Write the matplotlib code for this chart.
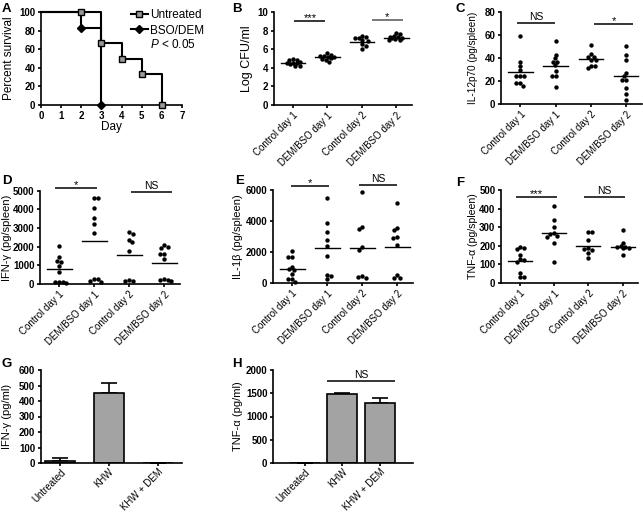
import numpy as np
import matplotlib
matplotlib.use("Agg")
import matplotlib.pyplot as plt
from matplotlib.lines import Line2D

plt.rcParams["font.family"] = ["Liberation Sans", "DejaVu Sans"]
plt.rcParams["mathtext.fontset"] = "custom"
plt.rcParams["mathtext.it"] = "Liberation Sans:italic"
plt.rcParams["mathtext.rm"] = "Liberation Sans"

W, H = 643, 513

# --- A: survival
days_untreated = [0, 2, 3, 4, 5, 6]
surv_untreated = [100, 100, 66.7, 50, 33.3, 0]
days_bso = [0, 2, 3]
surv_bso = [100, 83.3, 0]

day_groups = ["Control day 1", "DEM/BSO day 1", "Control day 2", "DEM/BSO day 2"]

# --- B: bacterial load
cfu = [
    [4.96, 4.85, 4.85, 4.6, 4.5, 4.5, 4.5, 4.4, 4.2, 4.2],
    [5.58, 5.4, 5.3, 5.3, 5.2, 5.15, 5.1, 5.0, 4.9, 4.67],
    [7.48, 7.3, 7.25, 7.2, 7.0, 6.94, 6.55, 6.4, 6.04],
    [7.77, 7.65, 7.4, 7.35, 7.3, 7.25, 7.2, 7.1, 7.05, 7.0],
]
cfu_mean = [4.56, 5.15, 6.85, 7.22]
cfu_sig = [(0.04, 0.94, 9.06, "***"), (2.29, 3.18, 9.2, "*")]

# --- C: IL-12p70
il12 = [
    [58.6, 36.7, 32.9, 29.5, 24.3, 24.3, 24.3, 17.9, 17.9, 15.9],
    [54.6, 42.5, 39.5, 36.7, 36.7, 33.8, 28.9, 24.6, 24.6, 15.0],
    [51.1, 43.1, 41.0, 41.0, 38.1, 38.1, 33.2, 33.2, 30.9],
    [50.5, 42.5, 38.1, 27.2, 24.3, 20.8, 20.8, 14.1, 8.4, 3.5],
]
il12_mean = [27.4, 32.9, 38.7, 24.6]
il12_sig = [(-0.1, 0.98, 70.5, "NS"), (2.1, 3.19, 69.3, "*")]

# --- D: IFN-gamma
ifng = [
    [2050, 1430, 1250, 1200, 980, 620, 130, 70, 120, 90],
    [4590, 4590, 4090, 3520, 3200, 2720, 250, 180, 250, 130],
    [2770, 2680, 2360, 2230, 1770, 210, 160, 180],
    [2090, 2000, 1950, 1610, 1600, 1320, 250, 200, 230, 180],
]
ifng_mean = [790, 2310, 1554, 1108]
ifng_sig = [(-0.11, 1.08, 5130, "*"), (2.04, 3.22, 4950, "NS")]

# --- E: IL-1beta
il1b = [
    [2080, 1700, 1700, 1050, 880, 840, 580, 240, 240, 90],
    [5460, 3850, 3270, 2770, 2390, 1740, 490, 240, 450],
    [5890, 3630, 3460, 2300, 2130, 450, 340, 410],
    [5140, 3570, 3420, 2950, 2880, 2450, 490, 340, 340],
]
il1b_mean = [880, 2280, 2280, 2345]
il1b_sig = [(-0.03, 1.05, 6256, "*"), (1.9, 3.0, 6320, "NS")]

# --- F: TNF-alpha
tnf = [
    [195, 186, 181, 150, 130, 125, 115, 55, 34, 34],
    [414, 339, 303, 267, 262, 253, 250, 217, 111],
    [276, 272, 231, 186, 183, 177, 160, 133],
    [285, 217, 200, 195, 195, 190, 190, 150],
]
tnf_mean = [118, 267, 201, 195]
tnf_sig = [(-0.11, 1.08, 464, "***"), (1.87, 3.07, 464, "NS")]

# --- G, H: in vitro
khw_groups = ["Untreated", "KHW", "KHW + DEM"]
ifng_ml = [15, 453, 0]
ifng_ml_err = [19, 61, 0]
tnf_ml = [0, 1477, 1297]
tnf_ml_err = [0, 35, 94]
tnf_ml_sig = [(0.58, 2.4, 1770, "NS")]


def add_axes(fig, left, top, right, bottom):
    return fig.add_axes([left / W, 1 - bottom / H, (right - left) / W, (bottom - top) / H])


def style(ax, ylim, yticks, ylabel, label_x, label_size=8):
    for s in ("top", "right"):
        ax.spines[s].set_visible(False)
    for s in ("left", "bottom"):
        ax.spines[s].set_linewidth(1.2)
    ax.set_ylim(*ylim)
    ax.set_yticks(yticks)
    ax.tick_params(direction="out", length=2.5, width=1.2, labelsize=7, pad=1.5)
    for lbl in ax.get_yticklabels():
        lbl.set_fontweight("bold")
    ax.set_ylabel(ylabel, fontsize=label_size)
    ax.yaxis.set_label_coords(label_x, 0.5)


def swarm(values, ax, dot=3.6, max_off=7.0):
    # GraphPad-like column scatter: nudge sideways, allow overlap past max_off
    pos = ax.get_position()
    x0, x1 = ax.get_xlim()
    y0, y1 = ax.get_ylim()
    sx = pos.width * W / (x1 - x0)
    sy = pos.height * H / (y1 - y0)
    vals = np.asarray(values, dtype=float)
    offs = np.zeros(len(vals))
    placed = []
    cands = [0.0]
    k = 1
    while k <= max_off:
        cands += [k, -k]
        k += 1
    for n, idx in enumerate(np.argsort(-vals, kind="stable")):
        y = vals[idx] * sy
        order = cands if n % 2 else [-c for c in cands]
        best, best_d = None, -1
        for c in order:
            d = min([np.hypot(c - px, y - py) for px, py in placed] or [99])
            if d >= dot:
                best = c
                break
            if d > best_d:
                best, best_d = c, d
        placed.append((best, y))
        offs[idx] = best / sx
    return offs


def sig_bars(ax, sigs, color="black"):
    for x0, x1, level, text in sigs:
        ax.plot([x0, x1], [level, level], color=color, lw=1.1, clip_on=False,
                solid_capstyle="butt")
        dy = 2 if text == "NS" else 0
        size = 7.5 if text == "NS" else 8
        ax.annotate(text, ((x0 + x1) / 2, level), xytext=(0, dy), textcoords="offset points",
                    ha="center", va="baseline", fontsize=size, annotation_clip=False)


def dot_panel(ax, groups, means, ylim, yticks, ylabel, label_x, sigs, label_size=8):
    ax.set_xlim(-0.55, 3.45)
    style(ax, ylim, yticks, ylabel, label_x, label_size)
    for i, (vals, m) in enumerate(zip(groups, means)):
        offs = swarm(vals, ax)
        ax.scatter(i + offs, vals, s=10, color="black", linewidths=0, zorder=3, clip_on=False)
        ax.plot([i - 0.35, i + 0.35], [m, m], color="black", lw=1.0, zorder=2)
    ax.set_xticks(range(len(day_groups)))
    ax.set_xticklabels(day_groups, rotation=45, ha="right", rotation_mode="anchor", fontsize=7)
    sig_bars(ax, sigs)


def bar_panel(ax, values, errs, xlim, width, ylim, yticks, ylabel, label_x):
    ax.set_xlim(*xlim)
    style(ax, ylim, yticks, ylabel, label_x)
    x = np.arange(len(values))
    ax.bar(x, values, width=width, color="#a3a3a3", edgecolor="black", linewidth=1.2, zorder=2)
    ax.errorbar(x, values, yerr=[np.zeros(len(errs)), errs], fmt="none", ecolor="black",
                elinewidth=1.2, capsize=5.5, capthick=1.2, zorder=1)
    ax.set_xticks(x)
    ax.set_xticklabels(khw_groups, rotation=45, ha="right", rotation_mode="anchor", fontsize=6.9)
    ax.tick_params(axis="x", pad=0.3)


fig = plt.figure(figsize=(W / 100, H / 100), dpi=100)

# A
ax = add_axes(fig, 41, 12.3, 182, 105)
ax.set_xlim(0, 7)
ax.set_xticks(range(8))
style(ax, (0, 100), [0, 20, 40, 60, 80, 100], "Percent survival", -0.185, 8.5)
for lbl in ax.get_xticklabels():
    lbl.set_fontweight("bold")
ax.set_xlabel("Day", fontsize=8.5)
ax.xaxis.set_label_coords(0.5, -0.17)
ax.plot(days_untreated, surv_untreated, drawstyle="steps-post", color="black", lw=1.5,
        clip_on=False, zorder=2)
ax.plot(days_untreated[1:], surv_untreated[1:], ls="none", marker="s", ms=4.5,
        mfc="#9a9a9a", mec="black", mew=1.0, clip_on=False, zorder=4)
ax.plot(days_bso, surv_bso, drawstyle="steps-post", color="black", lw=1.5,
        clip_on=False, zorder=3)
ax.plot(days_bso[1:], surv_bso[1:], ls="none", marker="D", ms=3.8, color="black",
        clip_on=False, zorder=5)
handles = [
    Line2D([], [], color="black", lw=1.5, marker="s", ms=4.5, mfc="#9a9a9a", mec="black"),
    Line2D([], [], color="black", lw=1.5, marker="D", ms=3.8),
]
ax.legend(handles, ["Untreated", "BSO/DEM"], loc="upper left",
          bbox_to_anchor=((131 - 41) / 141, (105 - 9) / 92.7), frameon=False,
          fontsize=8.5, handlelength=1.4, handletextpad=0.25, labelspacing=0.3,
          borderpad=0, borderaxespad=0)
ax.text((150 - 41) / 141, (105 - 44) / 92.7, "$P$ < 0.05", transform=ax.transAxes,
        fontsize=8.5, va="center", ha="left")

# B
ax = add_axes(fig, 274, 12.3, 412, 105)
dot_panel(ax, cfu, cfu_mean, (0, 10), [0, 2, 4, 6, 8, 10], "Log CFU/ml", -0.15,
          [], label_size=9)
sig_bars(ax, cfu_sig[:1])
sig_bars(ax, cfu_sig[1:], color="#555555")

# C
ax = add_axes(fig, 501, 11.7, 642, 104)
dot_panel(ax, il12, il12_mean, (0, 80), [0, 20, 40, 60, 80], "IL-12p70 (pg/spleen)",
          -0.165, il12_sig, label_size=7.2)

# D
ax = add_axes(fig, 40, 190.7, 180, 284)
dot_panel(ax, ifng, ifng_mean, (0, 5000), [0, 1000, 2000, 3000, 4000, 5000],
          "IFN-γ (pg/spleen)", -0.2, ifng_sig)

# E
ax = add_axes(fig, 273, 190, 413, 283)
dot_panel(ax, il1b, il1b_mean, (0, 6000), [0, 2000, 4000, 6000], "IL-1β (pg/spleen)",
          -0.214, il1b_sig)

# F
ax = add_axes(fig, 501, 190, 638, 283)
dot_panel(ax, tnf, tnf_mean, (0, 500), [0, 100, 200, 300, 400, 500], "TNF-α (pg/spleen)",
          -0.168, tnf_sig, label_size=7.6)

# G
ax = add_axes(fig, 40.7, 370, 182, 463)
bar_panel(ax, ifng_ml, ifng_ml_err, (-0.4, 2.5), 0.62, (0, 600),
          [0, 100, 200, 300, 400, 500, 600], "IFN-γ (pg/ml)", -0.2)

# H
ax = add_axes(fig, 273, 370, 413, 463)
bar_panel(ax, tnf_ml, tnf_ml_err, (-0.85, 2.88), 0.8, (0, 2000),
          [0, 500, 1000, 1500, 2000], "TNF-α (pg/ml)", -0.214)
sig_bars(ax, tnf_ml_sig)

# panel letters
for letter, px, py in [("A", 2, 3), ("B", 232, 3), ("C", 456, 3), ("D", 2, 175),
                       ("E", 235, 175), ("F", 456, 177), ("G", 2, 358), ("H", 232, 358)]:
    fig.text(px / W, 1 - py / H, letter, fontsize=9.5, fontweight="bold", ha="left", va="top")

fig.savefig("out.png", dpi=100)
